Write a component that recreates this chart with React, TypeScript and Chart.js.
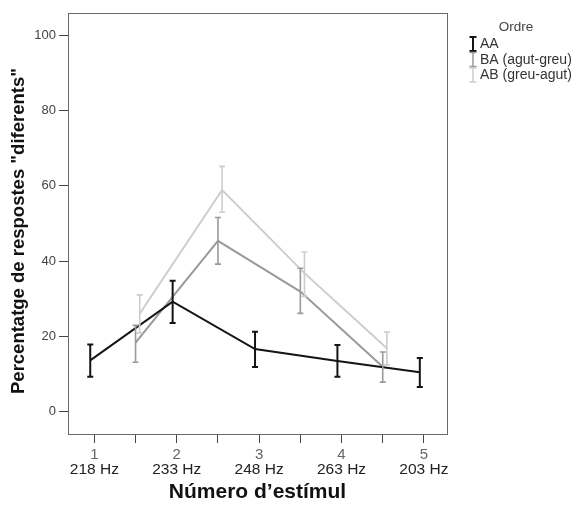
import React, { useEffect, useRef } from 'react';
import { Chart, registerables } from 'chart.js';
Chart.register(...registerables);

const stimulusNumbers = ['1', '2', '3', '4', '5'];
const stimulusFrequencies = ['218 Hz', '233 Hz', '248 Hz', '263 Hz', '203 Hz'];
const xTickValues = [1, 1.5, 2, 2.5, 3, 3.5, 4, 4.5, 5];
const yTickValues = [0, 20, 40, 60, 80, 100];
const xTitle = 'Número d’estímul';
const yTitle = 'Percentatge de respostes "diferents"';
const legendTitle = 'Ordre';
const seriesNames = ['AA', 'BA (agut-greu)', 'AB (greu-agut)'];
const seriesColors = ['#141414', '#9a9a9a', '#cdcdcd'];

const aaX = [0.95, 1.95, 2.95, 3.95, 4.95];
const aaMean = [13.6, 29.2, 16.6, 13.4, 10.4];
const aaLow = [9.2, 23.5, 11.8, 9.2, 6.5];
const aaHigh = [17.8, 34.8, 21.2, 17.7, 14.2];

const baX = [1.5, 2.5, 3.5, 4.5];
const baMean = [18.3, 45.4, 31.9, 11.9];
const baLow = [13.1, 39.2, 26.1, 7.8];
const baHigh = [22.9, 51.6, 38.1, 15.8];

const abX = [1.55, 2.55, 3.55, 4.55];
const abMean = [26.0, 58.9, 36.8, 16.8];
const abLow = [20.9, 53.0, 30.6, 12.4];
const abHigh = [31.0, 65.2, 42.4, 21.1];

const FONT = 'Arial, "Liberation Sans", sans-serif';

const pts = (xs: number[], ys: number[]) => xs.map((x, i) => ({ x, y: ys[i] }));

const errorBarPlugin = {
  id: 'errorBars',
  afterDatasetsDraw(chart: any) {
    const { ctx, scales } = chart;
    const xs = scales.x;
    const ys = scales.y;
    const n = chart.data.datasets.length;
    for (let i = n - 1; i >= 0; i--) {
      const ds = chart.data.datasets[i];
      ctx.save();
      ctx.strokeStyle = ds.borderColor;
      ctx.lineWidth = ds.errWidth;
      ds.data.forEach((p: any, j: number) => {
        const x = xs.getPixelForValue(p.x);
        const y1 = ys.getPixelForValue(ds.errLow[j]);
        const y2 = ys.getPixelForValue(ds.errHigh[j]);
        ctx.beginPath();
        ctx.moveTo(x, y1);
        ctx.lineTo(x, y2);
        ctx.moveTo(x - 3, y1);
        ctx.lineTo(x + 3, y1);
        ctx.moveTo(x - 3, y2);
        ctx.lineTo(x + 3, y2);
        ctx.stroke();
      });
      ctx.restore();
    }
  },
};

const framePlugin = {
  id: 'frame',
  beforeDatasetsDraw(chart: any) {
    const { ctx, chartArea: a } = chart;
    ctx.save();
    ctx.strokeStyle = '#6a6a6a';
    ctx.lineWidth = 1;
    ctx.strokeRect(a.left + 0.5, a.top + 0.5, a.right - a.left, a.bottom - a.top);
    ctx.restore();
  },
};

const textPlugin = {
  id: 'extraText',
  afterDraw(chart: any) {
    const { ctx, scales } = chart;
    ctx.save();
    // stimulus numbers above frequencies
    ctx.fillStyle = '#666';
    ctx.font = `15px ${FONT}`;
    ctx.textAlign = 'center';
    ctx.textBaseline = 'middle';
    stimulusNumbers.forEach((s) => {
      ctx.fillText(s, scales.x.getPixelForValue(Number(s)), 455);
    });
    // y title
    ctx.save();
    ctx.translate(19, 231);
    ctx.rotate(-Math.PI / 2);
    ctx.fillStyle = '#111';
    ctx.font = `bold 18.5px ${FONT}`;
    ctx.fillText(yTitle, 0, 0);
    ctx.restore();
    // legend
    ctx.fillStyle = '#444';
    ctx.font = `13.5px ${FONT}`;
    ctx.textAlign = 'center';
    ctx.fillText(legendTitle, 516, 27);
    ctx.textAlign = 'left';
    ctx.font = `14px ${FONT}`;
    seriesNames.forEach((name, i) => {
      const cy = 44 + i * 15.5;
      ctx.strokeStyle = seriesColors[i];
      ctx.lineWidth = i === 0 ? 2 : 1.5;
      ctx.beginPath();
      ctx.moveTo(473, cy - 7);
      ctx.lineTo(473, cy + 7);
      ctx.moveTo(469.5, cy - 7);
      ctx.lineTo(476.5, cy - 7);
      ctx.moveTo(469.5, cy + 7);
      ctx.lineTo(476.5, cy + 7);
      ctx.stroke();
      ctx.fillStyle = '#333';
      ctx.fillText(name, 480, cy + 0.5);
    });
    ctx.restore();
  },
};

export default function App() {
  const ref = useRef<HTMLCanvasElement>(null);
  useEffect(() => {
    document.body.style.margin = '0';
    const chart = new Chart(ref.current as HTMLCanvasElement, {
      type: 'line',
      data: {
        datasets: [
          { label: seriesNames[0], data: pts(aaX, aaMean), borderColor: seriesColors[0], borderWidth: 2, errLow: aaLow, errHigh: aaHigh, errWidth: 2 } as any,
          { label: seriesNames[1], data: pts(baX, baMean), borderColor: seriesColors[1], borderWidth: 2, errLow: baLow, errHigh: baHigh, errWidth: 1.6 } as any,
          { label: seriesNames[2], data: pts(abX, abMean), borderColor: seriesColors[2], borderWidth: 2, errLow: abLow, errHigh: abHigh, errWidth: 1.6 } as any,
        ],
      },
      options: {
        animation: false,
        responsive: false,
        parsing: false as any,
        elements: { point: { radius: 0, hoverRadius: 0 }, line: { tension: 0 } },
        layout: { padding: { top: 13, right: 132, left: 0, bottom: 0 } },
        plugins: { legend: { display: false }, tooltip: { enabled: false } },
        scales: {
          x: {
            type: 'linear',
            min: 0.68,
            max: 5.28,
            afterBuildTicks: (s: any) => { s.ticks = xTickValues.map((v) => ({ value: v })); },
            afterFit: (s: any) => { s.height = 72; },
            grid: { drawOnChartArea: false, drawTicks: true, tickLength: 9, color: '#444' },
            border: { color: '#444', width: 1 },
            ticks: {
              autoSkip: false,
              maxRotation: 0,
              padding: 17,
              color: '#222',
              font: { family: FONT, size: 15.5, lineHeight: 1.2 },
              callback: (v: any) => {
                const i = stimulusNumbers.indexOf(String(v));
                return i >= 0 ? stimulusFrequencies[i] : '';
              },
            },
            title: {
              display: true,
              text: xTitle,
              color: '#111',
              font: { family: FONT, size: 21, weight: 'bold', lineHeight: 1.2 },
              padding: { top: 0, bottom: 1 },
            },
          },
          y: {
            type: 'linear',
            min: -6,
            max: 106,
            afterBuildTicks: (s: any) => { s.ticks = yTickValues.map((v) => ({ value: v })); },
            afterFit: (s: any) => { s.width = 68; },
            grid: { drawOnChartArea: false, drawTicks: true, tickLength: 9, color: '#444' },
            border: { color: '#444', width: 1 },
            ticks: { padding: 3, color: '#444', font: { family: FONT, size: 13 } },
            title: { display: false },
          },
        },
      },
      plugins: [framePlugin, errorBarPlugin, textPlugin],
    });
    return () => chart.destroy();
  }, []);
  return (
    <div style={{ position: 'absolute', left: 0, top: 0, width: 579, height: 506 }}>
      <canvas ref={ref} width={579} height={506} />
    </div>
  );
}
